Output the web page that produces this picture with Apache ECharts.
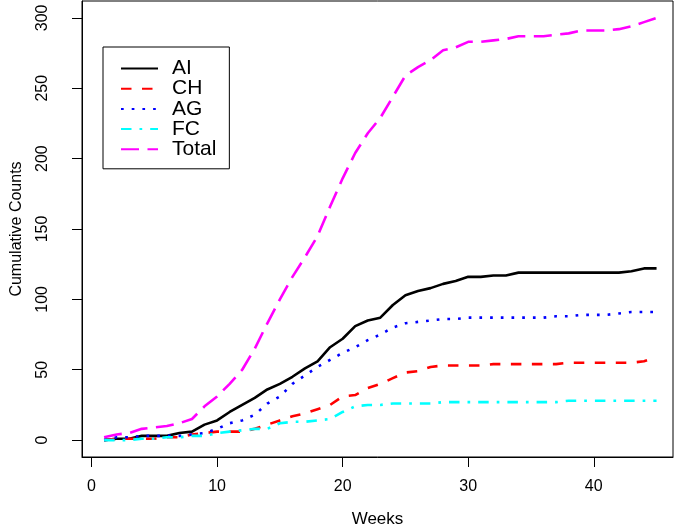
<!DOCTYPE html>
<html><head><meta charset="utf-8">
<script src="https://cdn.jsdelivr.net/npm/echarts@6/dist/echarts.min.js"></script>
<style>html,body{margin:0;padding:0;background:#fff}#c{width:679px;height:529px}</style>
</head><body><div id="c"></div>
<script>
// Data
const weeks = [1,2,3,4,5,6,7,8,9,10,11,12,13,14,15,16,17,18,19,20,21,22,23,24,25,26,27,28,29,30,31,32,33,34,35,36,37,38,39,40,41,42,43,44,45];
const AI = [0,1,1,3,3,3,5,6,11,14, 20,25,30,36,40,45,51,56,66,72, 81,85,87,96,103,106,108,111,113,116, 116,117,117,119,119,119,119,119,119,119, 119,119,120,122,122];
const CH = [0,1,1,1,1,2,2,4,5,6, 6,6,8,11,14,17,19,22,25,31, 32,37,40,44,48,49,52,53,53,53, 53,54,54,54,54,54,54,55,55,55, 55,55,55,56,59];
const AG = [0,2,2,3,3,3,3,4,5,8, 12,14,18,26,31,40,46,52,57,62, 66,71,75,80,83,84,85,86,86,87, 87,87,87,87,87,87,88,88,89,89, 89,90,91,91,91];
const FC = [0,0,0,1,1,2,2,3,3,5, 6,7,8,8,12,13,13,14,15,20, 24,25,25,26,26,26,26,27,27,27, 27,27,27,27,27,27,27,28,28,28, 28,28,28,28,28];
const Total = [2,4,5,8,9,10,12,15,24,31, 40,50,65,83,100,116,130,145,166,186, 204,218,229,244,259,265,270,277,279,283, 283,284,285,287,287,287,288,289,291,291, 291,292,294,297,300];
const xTicks = [0,10,20,30,40];
const yTicks = [0,50,100,150,200,250,300];

const FONT = '"Liberation Sans", Arial, Helvetica, sans-serif';
const chart = echarts.init(document.getElementById('c'), null, {renderer:'canvas'});

function mk(name, data, color, dash) {
  return {
    name: name, type: 'line', data: weeks.map((w, i) => [w, data[i]]),
    symbol: 'none', showSymbol: false, smooth: false,
    lineStyle: {color: color, width: 2.6, type: dash, cap: 'butt', join: 'round'},
    itemStyle: {color: color},
    emphasis: {disabled: true}, animation: false
  };
}

const option = {
  animation: false,
  backgroundColor: '#fff',
  grid: {left: 82, right: 6, top: 1, bottom: 72, show: true, borderColor: '#000', borderWidth: 1,
         backgroundColor: 'transparent', containLabel: false, outerBoundsMode: 'none'},
  xAxis: {
    type: 'value', min: -0.76, max: 46.31,
    axisLine: {show: true, onZero: false, lineStyle: {color: '#000', width: 1}},
    axisTick: {show: true, customValues: xTicks, length: 10, inside: false, lineStyle: {color: '#000', width: 1}},
    axisLabel: {customValues: xTicks, margin: 22, fontSize: 16, color: '#000', fontFamily: FONT},
    splitLine: {show: false},
    name: 'Weeks', nameLocation: 'middle', nameGap: 54,
    nameTextStyle: {fontSize: 17, color: '#000', fontFamily: FONT}
  },
  yAxis: {
    type: 'value', min: -12, max: 312,
    axisLine: {show: true, onZero: false, lineStyle: {color: '#000', width: 1}},
    axisTick: {show: true, customValues: yTicks, length: 10, inside: false, lineStyle: {color: '#000', width: 1}},
    axisLabel: {customValues: yTicks, margin: 31, rotate: 90, fontSize: 16, color: '#000', fontFamily: FONT},
    splitLine: {show: false},
    name: 'Cumulative Counts', nameLocation: 'middle', nameGap: 57, nameRotate: 90,
    nameTextStyle: {fontSize: 16, color: '#000', fontFamily: FONT}
  },
  legend: {
    orient: 'vertical', left: 103, top: 47,
    padding: [11, 13, 9, 17], itemGap: -0.8, itemWidth: 37, itemHeight: 20,
    borderColor: '#000', borderWidth: 1, backgroundColor: '#fff',
    itemStyle: {opacity: 0, borderWidth: 0},
    textStyle: {fontSize: 21, lineHeight: 20, color: '#000', fontFamily: FONT, padding: [0, 0, 0, 9]},
    data: ['AI', 'CH', 'AG', 'FC', 'Total'],
    selectedMode: false
  },
  series: [
    mk('AI', AI, '#000000', 'solid'),
    mk('CH', CH, '#FF0000', [10.5, 10.5]),
    mk('AG', AG, '#0000FF', [2.7, 8]),
    mk('FC', FC, '#00FFFF', [10.5, 8, 2.7, 8]),
    mk('Total', Total, '#FF00FF', [18, 8.5])
  ]
};
chart.setOption(option);
</script>
</body></html>
